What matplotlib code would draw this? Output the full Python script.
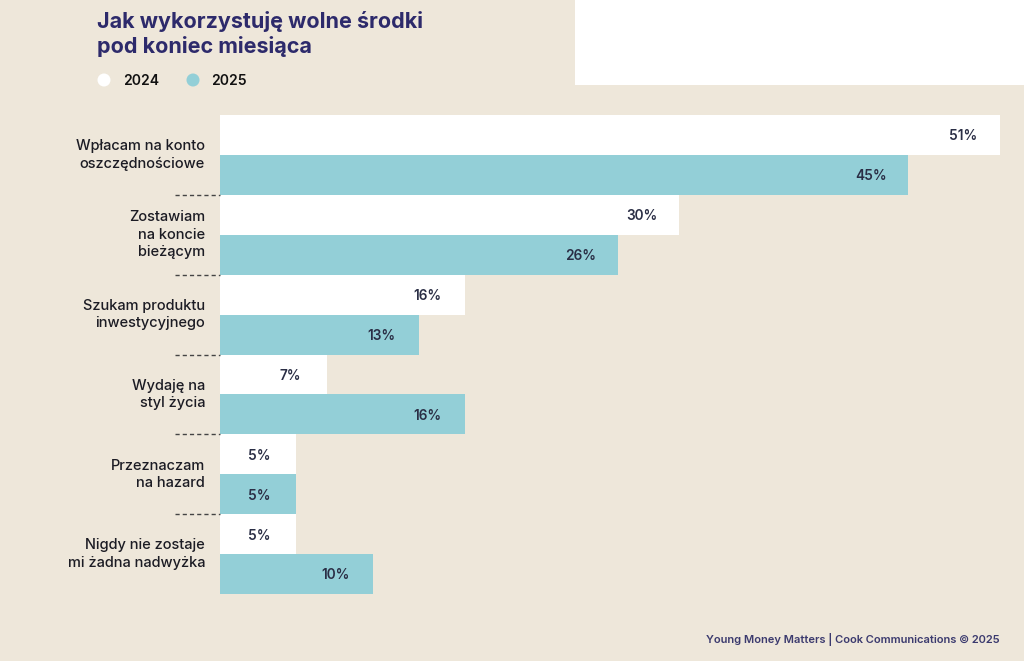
import matplotlib
matplotlib.use("Agg")
import matplotlib.pyplot as plt
import matplotlib.transforms as mtransforms
from matplotlib.patches import Rectangle, Ellipse

categories = [
    "Wpłacam na konto\noszczędnościowe",
    "Zostawiam\nna koncie\nbieżącym",
    "Szukam produktu\ninwestycyjnego",
    "Wydaję na\nstyl życia",
    "Przeznaczam\nna hazard",
    "Nigdy nie zostaje\nmi żadna nadwyżka",
]
values_2024 = [51, 30, 16, 7, 5, 5]
values_2025 = [45, 26, 13, 16, 5, 10]
series_labels = ["2024", "2025"]

BG = "#eee7da"
TEAL = "#93cfd7"
NAVY = "#2d2a6b"
TEXT = "#1c1c24"
VAL = "#2a2e45"

plt.rcParams['font.family'] = ['Inter', 'DejaVu Sans']

W, H = 1024, 661
fig = plt.figure(figsize=(W / 100, H / 100), dpi=100, facecolor=BG)

# white box top-right
fig.patches.append(Rectangle((575 / W, 1 - 85 / H), (W - 575) / W, 85 / H,
                             transform=fig.transFigure, facecolor="white",
                             edgecolor="none", zorder=0))

ax_left, ax_right = 220, 1000
ax_top, ax_bot = 115, 594
ax = fig.add_axes([ax_left / W, 1 - ax_bot / H, (ax_right - ax_left) / W, (ax_bot - ax_top) / H])
ax.set_facecolor("none")
ax.set_xlim(0, 51)
n = len(categories)
ax.set_ylim(2 * n - 0.5, -0.5)
ax.axis("off")

y24 = [2 * i for i in range(n)]
y25 = [2 * i + 1 for i in range(n)]
ax.barh(y24, values_2024, height=1.0, color="white", edgecolor="none")
ax.barh(y25, values_2025, height=1.0, color=TEAL, edgecolor="none")

for y, v in zip(y24 + y25, values_2024 + values_2025):
    ax.annotate(f"{v}%", xy=(v, y), xytext=(-37 * 0.72, -1), textcoords="offset points",
                ha="center", va="center", fontsize=9.8, fontweight="semibold", color=VAL)

trans = mtransforms.blended_transform_factory(ax.transAxes, ax.transData)
axw = ax_right - ax_left
for i in range(n - 1):
    yb = 2 * i + 1.5
    ax.plot([-45 / axw, 0], [yb, yb], transform=trans, clip_on=False,
            color="#444444", lw=1.0, linestyle=(0, (3, 2.2)))

for i, c in enumerate(categories):
    ax.text(-15 / axw, 2 * i + 0.5, c, transform=trans, ha="right", va="center",
            fontsize=10.5, fontweight="medium", color=TEXT, linespacing=1.3)

# title
fig.text(97 / W, 1 - 11 / H, "Jak wykorzystuję wolne środki\npod koniec miesiąca",
         ha="left", va="top", fontsize=15.5, fontweight="bold", color=NAVY, linespacing=1.25)

# legend
for cx, col, lab, tx in [(104, "white", series_labels[0], 123), (193, TEAL, series_labels[1], 211)]:
    fig.patches.append(Ellipse((cx / W, 1 - 80 / H), 13 / W, 13 / H, transform=fig.transFigure,
                               facecolor=col, edgecolor="none"))
    fig.text(tx / W, 1 - 81 / H, lab, ha="left", va="center", fontsize=10,
             fontweight="semibold", color="#111111")

# footer
fig.text(1000 / W, 1 - 640 / H, "Young Money Matters | Cook Communications © 2025",
         ha="right", va="center", fontsize=8, fontweight="semibold", color="#3b3a6e")

fig.savefig("out.png", dpi=100, facecolor=BG)
